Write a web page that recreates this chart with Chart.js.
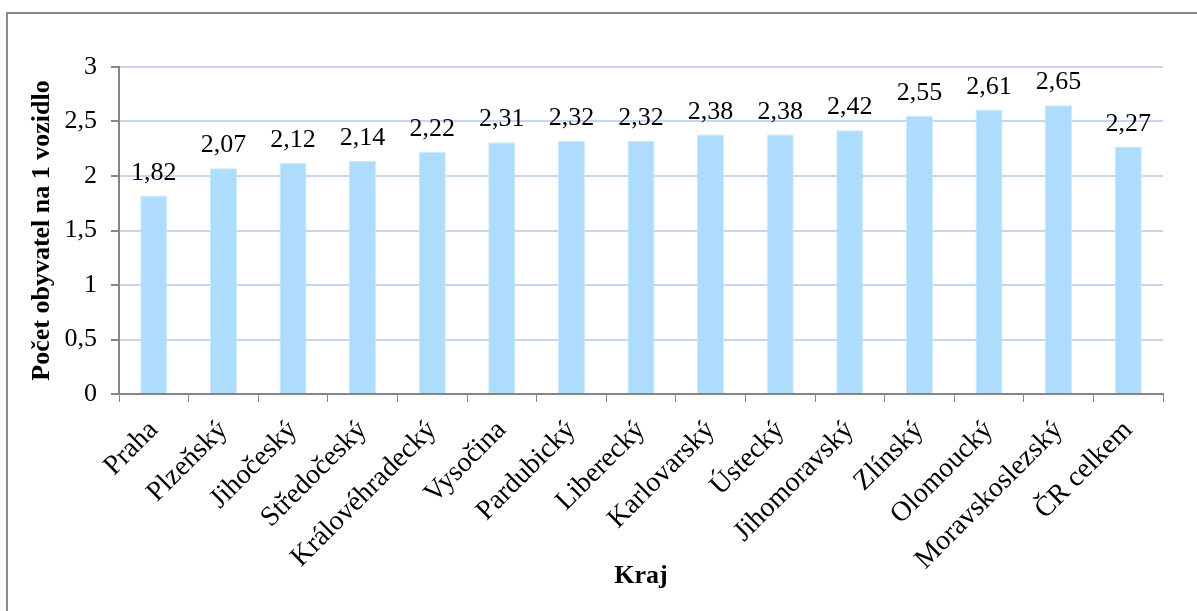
<!DOCTYPE html>
<html lang="cs">
<head>
<meta charset="utf-8">
<title>Počet obyvatel na 1 vozidlo podle krajů</title>
<script src="https://cdn.jsdelivr.net/npm/chart.js@4/dist/chart.umd.min.js"></script>
<style>
  html, body { margin: 0; padding: 0; background: #ffffff; }
  #wrap { width: 1197px; height: 611px; position: relative; }
</style>
</head>
<body>
<div id="wrap"><canvas id="chart" width="1197" height="611"></canvas></div>
<script>
// Kraje a počet obyvatel připadajících na jedno vozidlo
const categories = ['Praha', 'Plzeňský', 'Jihočeský', 'Středočeský', 'Královéhradecký', 'Vysočina',
  'Pardubický', 'Liberecký', 'Karlovarský', 'Ústecký', 'Jihomoravský', 'Zlínský',
  'Olomoucký', 'Moravskoslezský', 'ČR celkem'];
const values = [1.82, 2.07, 2.12, 2.14, 2.22, 2.31, 2.32, 2.32, 2.38, 2.38, 2.42, 2.55, 2.61, 2.65, 2.27];
const yTicks = [0, 0.5, 1, 1.5, 2, 2.5, 3];
const yTitle = 'Počet obyvatel na 1 vozidlo';
const xTitle = 'Kraj';

const SERIF = '"Liberation Serif", "Times New Roman", serif';
const fmt = v => String(v).replace('.', ',');

// Rámeček kolem celého grafu
const framePlugin = {
  id: 'frame',
  beforeDraw(chart) {
    const ctx = chart.ctx;
    ctx.save();
    ctx.strokeStyle = '#8a8a8a';
    ctx.lineWidth = 2;
    ctx.strokeRect(7, 13, chart.width + 20, chart.height + 20);
    ctx.restore();
  }
};

// Hodnoty nad sloupci
const valueLabels = {
  id: 'valueLabels',
  afterDatasetsDraw(chart) {
    const ctx = chart.ctx;
    const meta = chart.getDatasetMeta(0);
    ctx.save();
    ctx.font = '26px ' + SERIF;
    ctx.fillStyle = '#000000';
    ctx.textAlign = 'center';
    ctx.textBaseline = 'alphabetic';
    meta.data.forEach((bar, i) => {
      ctx.fillText(fmt(values[i]), bar.x, bar.y - 16);
    });
    ctx.restore();
  }
};

new Chart(document.getElementById('chart'), {
  type: 'bar',
  data: {
    labels: categories,
    datasets: [{
      data: values,
      backgroundColor: '#ADDCFC',
      borderColor: '#CBE8FD',
      borderWidth: 1,
      barPercentage: 0.39,
      categoryPercentage: 1.0
    }]
  },
  options: {
    responsive: false,
    animation: false,
    devicePixelRatio: 1,
    layout: { padding: { top: 67, right: 34, left: 0, bottom: 0 } },
    plugins: {
      legend: { display: false },
      tooltip: { enabled: false },
      title: { display: false }
    },
    scales: {
      x: {
        offset: true,
        grid: {
          display: true,
          offset: true,
          drawOnChartArea: false,
          drawTicks: true,
          tickLength: 8,
          tickColor: '#868686'
        },
        border: { display: true, color: '#868686', width: 2 },
        ticks: {
          color: '#000000',
          font: { family: SERIF, size: 28 },
          maxRotation: 45,
          minRotation: 45,
          autoSkip: false,
          padding: 12
        },
        title: {
          display: true,
          text: xTitle,
          color: '#000000',
          font: { family: SERIF, size: 26, weight: 'bold' },
          padding: { top: 0, bottom: 19 }
        },
        afterFit(scale) { scale.height = 217; }
      },
      y: {
        min: 0,
        max: 3,
        afterBuildTicks(scale) { scale.ticks = yTicks.map(v => ({ value: v })); },
        grid: {
          color: '#C8D5EE',
          lineWidth: 2,
          tickLength: 8,
          tickColor: '#868686'
        },
        border: { display: true, color: '#868686', width: 2 },
        ticks: {
          color: '#000000',
          font: { family: SERIF, size: 26 },
          padding: 14,
          callback: v => fmt(v)
        },
        title: {
          display: true,
          text: yTitle,
          color: '#000000',
          font: { family: SERIF, size: 26, weight: 'bold' },
          padding: { top: 27, bottom: 0 }
        },
        afterFit(scale) { scale.width = 119; }
      }
    }
  },
  plugins: [framePlugin, valueLabels]
});
</script>
</body>
</html>
